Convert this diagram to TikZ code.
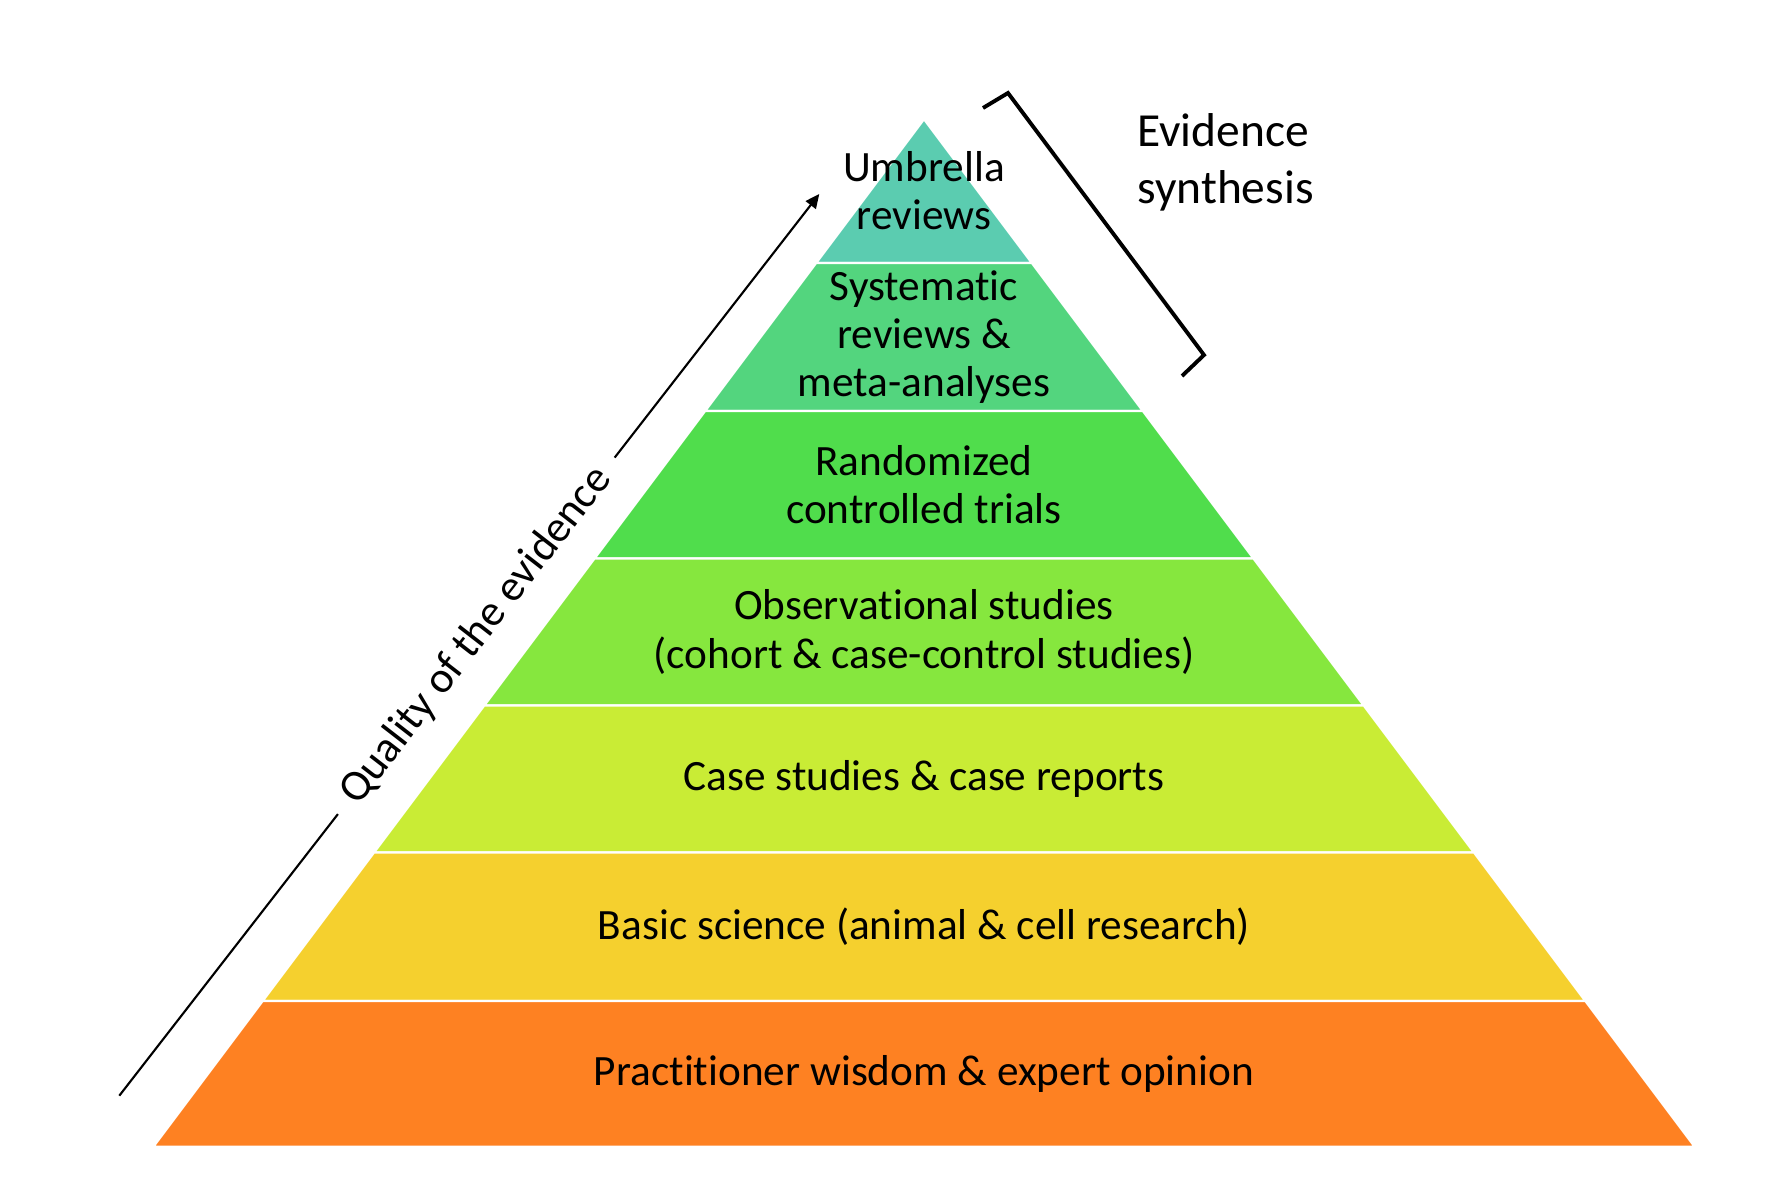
\documentclass[tikz,border=0pt]{standalone}
\usepackage{fontspec}
\setmainfont{Carlito}[Ligatures=NoCommon]
\usetikzlibrary{arrows.meta,calc}
\definecolor{umbrella}{HTML}{5BCCB0}
\definecolor{systematic}{HTML}{53D57E}
\definecolor{rct}{HTML}{50DD4C}
\definecolor{observ}{HTML}{86E73E}
\definecolor{casestud}{HTML}{C9EC35}
\definecolor{basicsci}{HTML}{F5D02E}
\definecolor{expert}{HTML}{FE8122}
\tikzset{
  layertext/.style={align=center,font=\fontsize{12.3}{13.7}\selectfont},
  sidetext/.style={align=left,font=\fontsize{13.5}{16.2}\selectfont},
}
\begin{document}
\begin{tikzpicture}[x=0.01cm,y=-0.01cm]
\useasboundingbox (0,0) rectangle (1790,1188);
\foreach \ya/\yb/\ty/\col/\txt [count=\i] in {
  119.3/263/191/umbrella/{Umbrella\\reviews},
  263/411/337/systematic/{Systematic\\reviews \&\\meta-analyses},
  411/558.5/484.8/rct/{Randomized\\controlled trials},
  558.5/705.5/632/observ/{Observational studies\\(cohort \& case-control studies)},
  705.5/852.5/779/casestud/{Case studies \& case reports},
  852.5/1001/926.7/basicsci/{Basic science (animal \& cell research)},
  1001/1146.7/1073.8/expert/{Practitioner wisdom \& expert opinion}}{
  \pgfmathsetmacro\wa{0.75*(\ya-119.3)}
  \pgfmathsetmacro\wb{0.75*(\yb-119.3)}
  \filldraw[fill=\col,draw=white,line width=0.6pt] (924-\wa,\ya) -- (924+\wa,\ya) -- (924+\wb,\yb) -- (924-\wb,\yb) -- cycle;
  \node[layertext] (layer\i) at (924,\ty) {\txt};
}
\node[sidetext,anchor=west] (synth) at (1125,162) {Evidence\\synthesis};
\draw[line width=1.1pt] (983,108) -- (1008,93) -- (1204,355) -- (1182,376);
\coordinate (qtail) at (119.3,1095.7);
\coordinate (qhead) at (819.3,194);
\node[rotate=52.2,inner xsep=5pt,font=\fontsize{12.5}{15}\selectfont] (qual) at ($(qtail)!0.51!(qhead)$) {Quality of the evidence};
\draw[line width=0.6pt] (qtail) -- (qual);
\draw[line width=0.6pt,-{Triangle[length=4pt,width=3.6pt]}] (qual) -- (qhead);
\end{tikzpicture}
\end{document}
